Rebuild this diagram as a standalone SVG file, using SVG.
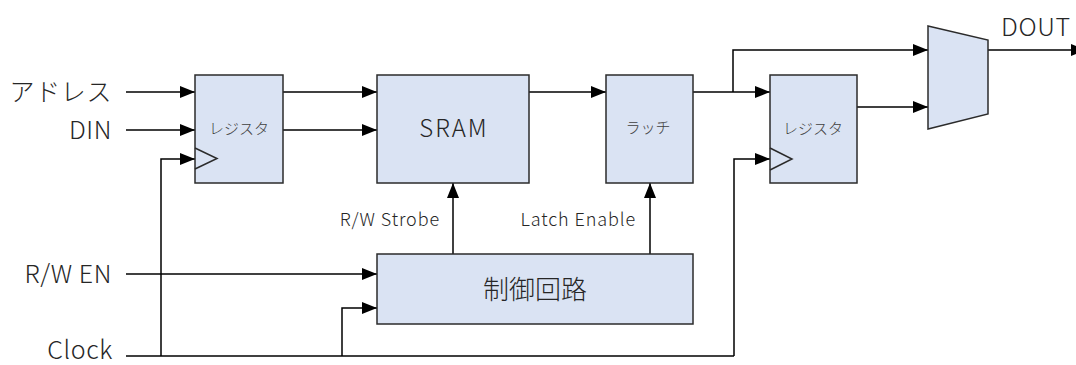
<svg xmlns="http://www.w3.org/2000/svg" width="1076" height="365" viewBox="0 0 1076 365">
  <defs>
    <marker id="arrow" markerWidth="15" markerHeight="12" refX="15" refY="6" orient="auto" markerUnits="userSpaceOnUse">
      <path d="M0,0 L15,6 L0,12 Z" fill="#000"/>
    </marker>
    <style>
      .box { fill: #dae3f3; stroke: #2b2b2b; stroke-width: 1.5; }
      .clk { fill: none; stroke: #2b2b2b; stroke-width: 1.5; }
      .wire { fill: none; stroke: #000; stroke-width: 1.5; }
      .arr { marker-end: url(#arrow); }
      text { font-family: "Noto Sans CJK JP", "Noto Sans", sans-serif; font-weight: 300; fill: #262626; }
      .sig { font-size: 25px; letter-spacing: 0.6px; }
      .lbl { font-size: 18px; letter-spacing: 0.9px; }
      .small { font-size: 15px; fill: #404040; }
    </style>
  </defs>

  <rect width="1076" height="365" fill="#fff"/>

  <!-- signal wires -->
  <g id="connectors">
    <!-- inputs to input register -->
    <path class="wire arr" d="M126,92 H195"/>
    <path class="wire arr" d="M126,130 H195"/>
    <!-- register to SRAM -->
    <path class="wire arr" d="M283,92 H377"/>
    <path class="wire arr" d="M283,130 H377"/>
    <!-- SRAM to latch -->
    <path class="wire arr" d="M529,92 H606"/>
    <!-- latch to output register and bypass to mux -->
    <path class="wire arr" d="M693,92 H770"/>
    <path class="wire arr" d="M733,92 V50 H928"/>
    <!-- output register to mux -->
    <path class="wire arr" d="M857,107 H928"/>
    <!-- mux output -->
    <path class="wire arr" d="M988,50 H1086"/>
    <!-- control outputs -->
    <path class="wire arr" d="M453,254 V183"/>
    <path class="wire arr" d="M650,254 V183"/>
    <!-- R/W enable -->
    <path class="wire arr" d="M126,274 H377"/>
    <!-- clock distribution -->
    <path class="wire" d="M126,356 H734"/>
    <path class="wire arr" d="M161,356 V159 H195"/>
    <path class="wire arr" d="M342,356 V308 H377"/>
    <path class="wire arr" d="M734,356 V159 H770"/>
  </g>

  <g id="reg-in">
    <rect class="box" x="195" y="75" width="88" height="108"/>
    <path class="clk" d="M195,148 L217,158.5 L195,169"/>
    <text class="small" x="239" y="134" text-anchor="middle">レジスタ</text>
  </g>

  <g id="sram">
    <rect class="box" x="377" y="75" width="152" height="108"/>
    <text x="454" y="137" text-anchor="middle" font-size="24" letter-spacing="2">SRAM</text>
  </g>

  <g id="latch">
    <rect class="box" x="606" y="75" width="87" height="108"/>
    <text class="small" x="648" y="133" text-anchor="middle" font-size="14">ラッチ</text>
  </g>

  <g id="reg-out">
    <rect class="box" x="770" y="75" width="87" height="108"/>
    <path class="clk" d="M770,148 L792,159 L770,170"/>
    <text class="small" x="813" y="134" text-anchor="middle">レジスタ</text>
  </g>

  <g id="mux">
    <polygon class="box" points="928,26 988,40 988,114 928,129"/>
  </g>

  <g id="ctrl">
    <rect class="box" x="377" y="254" width="316" height="70"/>
    <text x="535" y="299" text-anchor="middle" font-size="26">制御回路</text>
  </g>

  <g id="labels">
    <text class="sig" x="112" y="101" text-anchor="end">アドレス</text>
    <text class="sig" x="112" y="139" text-anchor="end">DIN</text>
    <text class="sig" x="112" y="283" text-anchor="end">R/W EN</text>
    <text class="sig" x="113" y="359" text-anchor="end">Clock</text>
    <text class="sig" x="1001" y="36">DOUT</text>
    <text class="lbl" x="440" y="226" text-anchor="end">R/W Strobe</text>
    <text class="lbl" x="636" y="226" text-anchor="end">Latch Enable</text>
  </g>
</svg>
